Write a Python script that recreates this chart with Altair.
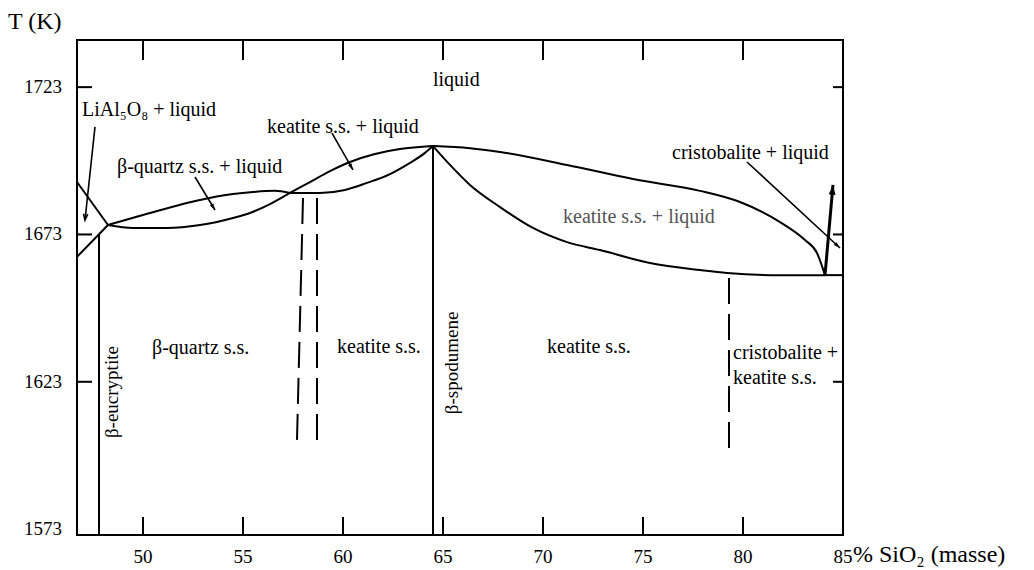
import math
import altair as alt
import pandas as pd

# Plot extents: composition in wt% SiO2, temperature in kelvin
X_MIN, X_MAX = 46.7, 85.0
T_MIN, T_MAX = 1571.0, 1739.0
PLOT_W, PLOT_H = 766, 495

x_tick_values = [50, 55, 60, 65, 70, 75, 80, 85]
t_tick_values = [1573, 1623, 1673, 1723]

# inner tick marks drawn on the frame
x_inner_ticks = [50, 55, 60, 65, 70, 75, 80]
t_inner_ticks = [1623, 1673, 1723]

x_title = "% SiO₂ (masse)"
t_title = "T (K)"

# --- phase boundaries (x = wt% SiO2, t = K) ---
laal_liq_x = [46.7, 48.25]
laal_liq_t = [1690.8, 1676.2]

eucr_liq_x = [46.7, 48.25]
eucr_liq_t = [1665.4, 1676.2]

eucryptite_x = [47.8, 47.8]
eucryptite_t = [1571.0, 1673.1]

spodumene_x = [64.5, 64.5]
spodumene_t = [1571.0, 1703.0]

eutectic_x = [84.1, 85.0]
eutectic_t = [1659.2, 1659.2]

quartz_liq_x = [48.25, 50.35, 52.85, 54.5, 55.5, 56.6, 57.35]
quartz_liq_t = [1676.2, 1680.3, 1684.7, 1686.7, 1687.4, 1687.8, 1687.1]

quartz_sol_x = [48.25, 49.5, 51.2, 52.85, 54.5, 55.35, 56.35, 57.35]
quartz_sol_t = [1676.2, 1675.2, 1675.2, 1676.2, 1678.6, 1680.3, 1683.3, 1687.1]

keat_liq_x = [57.35, 58.35, 59.35, 60.35, 61.6, 62.85, 63.85, 64.5]
keat_liq_t = [1687.1, 1690.8, 1694.5, 1697.6, 1700.3, 1702.0, 1702.7, 1703.0]

keat_sol_x = [57.35, 58.85, 60.1, 61.2, 62.35, 63.35, 64.1, 64.5]
keat_sol_t = [1687.1, 1687.1, 1688.1, 1690.5, 1693.5, 1697.3, 1700.7, 1703.0]

right_liq_x = [64.5, 66.35, 67.85, 71.2, 74.5, 77.85, 79.85, 81.85, 83.1, 83.7, 84.1]
right_liq_t = [1703.0, 1702.3, 1701.0, 1696.6, 1691.8, 1687.8, 1684.0, 1677.2, 1671.1, 1666.7, 1659.2]

right_sol_x = [64.5, 65.35, 66.35, 67.85, 69.5, 71.2, 72.85, 75.35, 77.85, 79.2, 81.85, 84.1]
right_sol_t = [1703.0, 1696.6, 1689.8, 1682.3, 1675.2, 1670.4, 1667.7, 1663.3, 1660.9, 1659.9, 1659.2, 1659.2]

# uncertain boundaries (dashed)
dash_a_x = [58.0, 57.7]
dash_a_t = [1685.4, 1603.2]
dash_b_x = [58.7, 58.7]
dash_b_t = [1685.4, 1603.2]
dash_c_x = [79.3, 79.3]
dash_c_t = [1658.2, 1597.5]

# cristobalite liquidus, drawn as a heavy arrow
crist_x = [84.1, 84.5]
crist_t = [1659.2, 1689.8]

# label leader arrows: start -> tip
leader_names = ["laal", "quartz", "keatite", "cristobalite"]
leader_x0 = [47.6, 52.6, 59.45, 80.2]
leader_t0 = [1709.5, 1692.5, 1707.4, 1697.6]
leader_x1 = [47.1, 53.6, 60.5, 84.85]
leader_t1 = [1677.9, 1681.3, 1694.9, 1668.4]

# field labels (left edge, vertical middle)
label_text = ["liquid", "LiAl₅O₈ + liquid", "β-quartz s.s. + liquid",
              "keatite s.s. + liquid", "cristobalite + liquid",
              "keatite s.s. + liquid", "β-quartz s.s.", "keatite s.s.",
              "keatite s.s.", "cristobalite +", "keatite s.s."]
label_x = [64.5, 46.95, 48.7, 56.2, 76.45, 71.0, 50.45, 59.7, 70.2, 79.5, 79.5]
label_t = [1725.4, 1715.2, 1695.9, 1709.5, 1700.7, 1678.9, 1634.5, 1634.8, 1634.8, 1632.8, 1624.3]
label_color = ["#000000", "#000000", "#000000", "#000000", "#000000",
               "#555555", "#000000", "#000000", "#000000", "#000000", "#000000"]

# phase names written along the vertical lines
vlabel_text = ["β-eucryptite", "β-spodumene"]
vlabel_x = [48.45, 65.45]
vlabel_t = [1619.5, 1629.4]

FONT = "Liberation Serif"
K_PER_PX = (T_MAX - T_MIN) / PLOT_H
X_PER_PX = (X_MAX - X_MIN) / PLOT_W


def frame(segments):
    rows = []
    for name, (xs, ts) in segments.items():
        for i, (x, t) in enumerate(zip(xs, ts)):
            rows.append({"seg": name, "i": i, "x": float(x), "t": float(t)})
    return pd.DataFrame(rows)


def screen_angle(x0, t0, x1, t1):
    dx = (x1 - x0) / X_PER_PX
    dy = -(t1 - t0) / K_PER_PX
    return math.degrees(math.atan2(dx, -dy)) % 360


curves = frame({
    "quartz_liq": (quartz_liq_x, quartz_liq_t),
    "quartz_sol": (quartz_sol_x, quartz_sol_t),
    "keat_liq": (keat_liq_x, keat_liq_t),
    "keat_sol": (keat_sol_x, keat_sol_t),
    "right_liq": (right_liq_x, right_liq_t),
    "right_sol": (right_sol_x, right_sol_t),
})

straights = frame({
    "laal_liq": (laal_liq_x, laal_liq_t),
    "eucr_liq": (eucr_liq_x, eucr_liq_t),
    "eucryptite": (eucryptite_x, eucryptite_t),
    "spodumene": (spodumene_x, spodumene_t),
    "eutectic": (eutectic_x, eutectic_t),
})

dashed = frame({
    "a": (dash_a_x, dash_a_t),
    "b": (dash_b_x, dash_b_t),
    "c": (dash_c_x, dash_c_t),
})

crist = frame({"crist": (crist_x, crist_t)})

leaders = frame({
    n: ([x0, x1], [t0, t1])
    for n, x0, t0, x1, t1 in zip(leader_names, leader_x0, leader_t0, leader_x1, leader_t1)
})

heads = pd.DataFrame({
    "name": leader_names + ["crist"],
    "x": leader_x1 + [crist_x[1]],
    "t": leader_t1 + [crist_t[1]],
    "angle": [screen_angle(a, b, c, d) for a, b, c, d in
              zip(leader_x0, leader_t0, leader_x1, leader_t1)]
             + [screen_angle(crist_x[0], crist_t[0], crist_x[1], crist_t[1])],
})
open_heads = heads[heads["name"] == "laal"]
filled_heads = heads[(heads["name"] != "laal") & (heads["name"] != "crist")]
big_head = heads[heads["name"] == "crist"]

labels = pd.DataFrame({"text": label_text, "x": label_x, "t": label_t, "color": label_color})
vlabels = pd.DataFrame({"text": vlabel_text, "x": vlabel_x, "t": vlabel_t})

x_ticks_df = pd.DataFrame({"x": [float(v) for v in x_inner_ticks]})
t_ticks_df = pd.DataFrame({"t": [float(v) for v in t_inner_ticks]})
x_labels_df = pd.DataFrame({"x": [float(v) for v in x_tick_values],
                            "text": [str(v) for v in x_tick_values]})
t_labels_df = pd.DataFrame({"t": [float(v) for v in t_tick_values],
                            "text": [str(v) for v in t_tick_values]})
x_title_df = pd.DataFrame({"text": [x_title]})
t_title_df = pd.DataFrame({"text": [t_title]})

x_scale = alt.Scale(domain=[X_MIN, X_MAX], nice=False, zero=False)
t_scale = alt.Scale(domain=[T_MIN, T_MAX], nice=False, zero=False)

X_ENC = alt.X("x:Q", scale=x_scale, axis=None)
T_ENC = alt.Y("t:Q", scale=t_scale, axis=None)

curve_layer = alt.Chart(curves).mark_line(
    interpolate="monotone", color="black", strokeWidth=2
).encode(x=X_ENC, y=T_ENC, detail="seg:N", order="i:Q")

straight_layer = alt.Chart(straights).mark_line(color="black", strokeWidth=2).encode(
    x=X_ENC, y=T_ENC, detail="seg:N", order="i:Q")

dashed_layer = alt.Chart(dashed).mark_line(
    color="black", strokeWidth=2, strokeDash=[26, 10]
).encode(x=X_ENC, y=T_ENC, detail="seg:N", order="i:Q")

crist_layer = alt.Chart(crist).mark_line(color="black", strokeWidth=3).encode(
    x=X_ENC, y=T_ENC, detail="seg:N", order="i:Q")

leader_layer = alt.Chart(leaders).mark_line(color="black", strokeWidth=1.6).encode(
    x=X_ENC, y=T_ENC, detail="seg:N", order="i:Q")

head_filled_layer = alt.Chart(filled_heads).mark_point(
    shape="M 0 0 L -0.3 1 L 0.3 1 Z", filled=True, color="black", size=170, opacity=1
).encode(x=X_ENC, y=T_ENC, angle=alt.Angle("angle:Q", scale=None))

head_open_layer = alt.Chart(open_heads).mark_point(
    shape="M -0.35 1 L 0 0 L 0.35 1", filled=False, color="black", size=150,
    strokeWidth=1.6, opacity=1
).encode(x=X_ENC, y=T_ENC, angle=alt.Angle("angle:Q", scale=None))

head_big_layer = alt.Chart(big_head).mark_point(
    shape="M 0 0 L -0.35 1 L 0.35 1 Z", filled=True, color="black", size=380, opacity=1
).encode(x=X_ENC, y=T_ENC, angle=alt.Angle("angle:Q", scale=None))

label_layer = alt.Chart(labels).mark_text(
    font=FONT, fontSize=20, align="left", baseline="middle"
).encode(x=X_ENC, y=T_ENC, text="text:N", color=alt.Color("color:N", scale=None))

vlabel_layer = alt.Chart(vlabels).mark_text(
    font=FONT, fontSize=19, align="center", baseline="middle", angle=270, color="black"
).encode(x=X_ENC, y=T_ENC, text="text:N")

# inward-pointing ticks on all four sides of the frame
tick_bottom = alt.Chart(x_ticks_df).mark_rule(color="black", strokeWidth=2).encode(
    x=X_ENC, y=alt.value(PLOT_H - 18), y2=alt.value(PLOT_H))
tick_top = alt.Chart(x_ticks_df).mark_rule(color="black", strokeWidth=2).encode(
    x=X_ENC, y=alt.value(0), y2=alt.value(20))
tick_left = alt.Chart(t_ticks_df).mark_rule(color="black", strokeWidth=2).encode(
    y=T_ENC, x=alt.value(0), x2=alt.value(15))
tick_right = alt.Chart(t_ticks_df).mark_rule(color="black", strokeWidth=2).encode(
    y=T_ENC, x=alt.value(PLOT_W - 10), x2=alt.value(PLOT_W))

# tick labels and axis titles
x_label_layer = alt.Chart(x_labels_df).mark_text(
    font=FONT, fontSize=19, align="center", baseline="middle", color="black"
).encode(x=X_ENC, y=alt.value(PLOT_H + 22), text="text:N")
t_label_layer = alt.Chart(t_labels_df).mark_text(
    font=FONT, fontSize=19, align="right", baseline="middle", color="black"
).encode(y=T_ENC, x=alt.value(-15), text="text:N")
x_title_layer = alt.Chart(x_title_df).mark_text(
    font=FONT, fontSize=24, align="left", baseline="middle", color="black"
).encode(x=alt.value(776), y=alt.value(PLOT_H + 20), text="text:N")
t_title_layer = alt.Chart(t_title_df).mark_text(
    font=FONT, fontSize=24, align="left", baseline="middle", color="black"
).encode(x=alt.value(-69), y=alt.value(-18), text="text:N")

chart = alt.layer(
    curve_layer, straight_layer, dashed_layer, crist_layer, leader_layer,
    head_filled_layer, head_open_layer, head_big_layer, label_layer, vlabel_layer,
    tick_bottom, tick_top, tick_left, tick_right,
    x_label_layer, t_label_layer, x_title_layer, t_title_layer,
).properties(
    width=PLOT_W, height=PLOT_H,
    autosize=alt.AutoSizeParams(type="none"),
    padding={"left": 77, "top": 40, "right": 191, "bottom": 35},
    background="white",
).configure_view(stroke="black", strokeWidth=2)

chart.save("out.html", embed_options={"renderer": "svg", "actions": False})
